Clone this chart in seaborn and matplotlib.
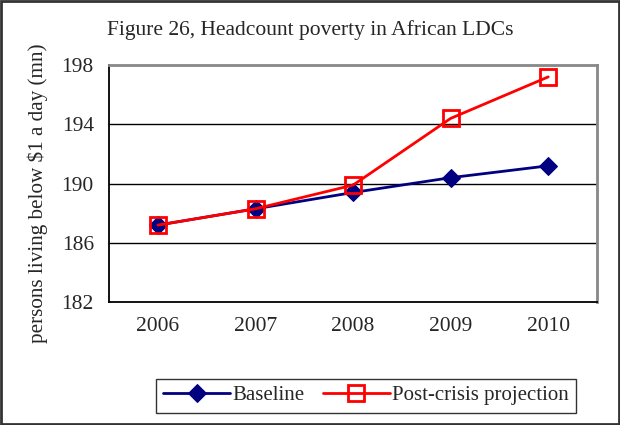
import pandas as pd
import matplotlib
matplotlib.use("Agg")
import matplotlib.pyplot as plt
import seaborn as sns

# values
years = ["2006", "2007", "2008", "2009", "2010"]
baseline = [187.2, 188.3, 189.4, 190.4, 191.2]
post_crisis = [187.2, 188.3, 189.9, 194.4, 197.2]
y_ticks = [182, 186, 190, 194, 198]

df = pd.DataFrame({
    "Year": years * 2,
    "Value": baseline + post_crisis,
    "Series": ["Baseline"] * len(years) + ["Post-crisis projection"] * len(years),
})

sns.set_style("white")
plt.rcParams["font.family"] = ["Liberation Serif", "DejaVu Serif"]

fig = plt.figure(figsize=(6.2, 4.25), dpi=100)
ax = fig.add_axes([0.176, 0.289, 0.787, 0.558])

sns.lineplot(data=df[df["Series"] == "Baseline"], x="Year", y="Value",
             color="#000080", marker="D", markersize=9, linewidth=2,
             markeredgecolor="#000080", label="Baseline", ax=ax)
sns.lineplot(data=df[df["Series"] == "Post-crisis projection"], x="Year", y="Value",
             color="#ff0000", marker="s", markersize=11, linewidth=2,
             markerfacecolor="none", markeredgecolor="#ff0000", markeredgewidth=2,
             label="Post-crisis projection", ax=ax)

ax.set_xlim(-0.5, 4.5)
ax.set_ylim(182, 198)
ax.set_yticks(y_ticks)
ax.set_yticklabels([str(v) for v in y_ticks], fontsize=15.5)
ax.set_xticks(range(len(years)))
ax.set_xticklabels(years, fontsize=15.5)
ax.set_xticks([i - 0.5 for i in range(len(years) + 1)], minor=True)
ax.tick_params(axis="x", which="major", length=0, pad=11)
ax.tick_params(axis="x", which="minor", length=6, width=1, color="black", direction="out")
ax.tick_params(axis="y", which="major", length=8, width=1, color="black", direction="out", pad=3)
ax.grid(False)
for v in y_ticks[1:-1]:
    ax.axhline(v, color="black", linewidth=1, zorder=0)

ax.set_xlabel("")
ax.set_ylabel("persons living below $1 a day (mn)", fontsize=15.2, labelpad=6)
ax.yaxis.set_label_coords(-0.125, 0.46)

for side in ["left", "bottom"]:
    ax.spines[side].set_color("black")
    ax.spines[side].set_linewidth(1.3)
for side in ["top", "right"]:
    ax.spines[side].set_color("#888888")
    ax.spines[side].set_linewidth(2)

fig.text(0.5, 0.93, "Figure 26, Headcount poverty in African LDCs",
         ha="center", va="center", fontsize=15.5)

leg = ax.legend(loc="center", bbox_to_anchor=(0.59, 0.069), bbox_transform=fig.transFigure,
                ncol=2, fontsize=15, frameon=True, fancybox=False, handlelength=3.2,
                handletextpad=0.1, columnspacing=0.9, borderpad=0.35)
leg.get_frame().set_edgecolor("black")
leg.get_frame().set_linewidth(1)

# outer frame around the whole figure
fig.patches.append(plt.Rectangle((0.002, 0.002), 0.996, 0.996, transform=fig.transFigure,
                                 fill=False, edgecolor="#333333", linewidth=2))

fig.savefig("out.png", dpi=100)
